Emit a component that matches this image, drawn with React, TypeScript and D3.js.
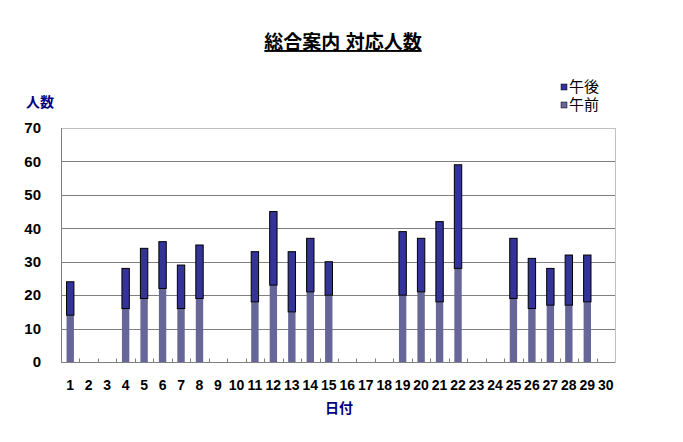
import { useEffect, useRef } from "react";
import * as d3 from "d3";

const days = d3.range(1, 31).map(String);

// 午前 (morning) and 午後 (afternoon) counts per day; 0 = no data
const morning = [14, 0, 0, 16, 19, 22, 16, 19, 0, 0, 18, 23, 15, 21, 20, 0, 0, 0, 20, 21, 18, 28, 0, 0, 19, 16, 17, 17, 18, 0];
const afternoon = [10, 0, 0, 12, 15, 14, 13, 16, 0, 0, 15, 22, 18, 16, 10, 0, 0, 0, 19, 16, 24, 31, 0, 0, 18, 15, 11, 15, 14, 0];

const yTicks = [0, 10, 20, 30, 40, 50, 60, 70];
const seriesNames = ["午後", "午前"];
const seriesColors = ["#333399", "#666699"];

const FONT = "'Liberation Sans', 'Noto Sans CJK JP', sans-serif";
const NUM_FONT = "'Liberation Sans Narrow', 'Liberation Sans', sans-serif";

const App = () => {
  const chartRef = useRef<SVGSVGElement>(null);

  useEffect(() => {
    if (!chartRef.current) return;
    const width = 683;
    const height = 442;
    const margin = { top: 128, right: 68, bottom: 80, left: 61 };

    const svg = d3.select(chartRef.current);
    svg.selectAll("*").remove();

    const xScale = d3
      .scaleBand()
      .domain(days)
      .range([margin.left, width - margin.right])
      .padding(0);

    const yScale = d3
      .scaleLinear()
      .domain([0, 70])
      .range([height - margin.bottom, margin.top]);

    // title
    svg
      .append("text")
      .attr("x", 343)
      .attr("y", 49)
      .attr("text-anchor", "middle")
      .style("font-family", FONT)
      .style("font-size", "19px")
      .style("font-weight", "bold")
      .style("text-decoration", "underline")
      .text("総合案内 対応人数");

    // plot frame (light)
    svg
      .append("rect")
      .attr("x", margin.left + 0.5)
      .attr("y", yScale(70) + 0.5)
      .attr("width", width - margin.right - margin.left)
      .attr("height", yScale(0) - yScale(70))
      .attr("fill", "none")
      .attr("stroke", "#c0c0c0");

    // gridlines
    svg
      .append("g")
      .selectAll("line")
      .data(yTicks.filter((t) => t > 0 && t < 70))
      .join("line")
      .attr("x1", margin.left)
      .attr("x2", width - margin.right)
      .attr("y1", (d) => Math.round(yScale(d)) + 0.5)
      .attr("y2", (d) => Math.round(yScale(d)) + 0.5)
      .attr("stroke", "#808080");

    // y tick labels
    svg
      .append("g")
      .selectAll("text")
      .data(yTicks)
      .join("text")
      .attr("x", margin.left - 20)
      .attr("y", (d) => yScale(d))
      .attr("dy", "0.35em")
      .attr("text-anchor", "end")
      .style("font-family", NUM_FONT)
      .style("font-size", "15px")
      .style("font-weight", "bold")
      .text((d) => d);

    // stacked bars
    const barW = xScale.bandwidth() * 0.4;
    const barX = (i: number) => (xScale(days[i]) as number) + (xScale.bandwidth() - barW) / 2;

    const g = svg.append("g");
    days.forEach((_day, i) => {
      if (morning[i] + afternoon[i] === 0) return;
      g.append("rect")
        .attr("x", barX(i))
        .attr("y", yScale(morning[i]))
        .attr("width", barW)
        .attr("height", yScale(0) - yScale(morning[i]))
        .attr("fill", seriesColors[1]);
      g.append("rect")
        .attr("x", barX(i))
        .attr("y", yScale(morning[i] + afternoon[i]))
        .attr("width", barW)
        .attr("height", yScale(morning[i]) - yScale(morning[i] + afternoon[i]))
        .attr("fill", seriesColors[0])
        .attr("stroke", "#000")
        .attr("stroke-width", 1);
    });

    // axes lines
    const y0 = Math.round(yScale(0)) + 0.5;
    svg
      .append("line")
      .attr("x1", margin.left + 0.5)
      .attr("x2", margin.left + 0.5)
      .attr("y1", yScale(70))
      .attr("y2", y0)
      .attr("stroke", "#808080");
    svg
      .append("line")
      .attr("x1", margin.left)
      .attr("x2", width - margin.right)
      .attr("y1", y0)
      .attr("y2", y0)
      .attr("stroke", "#808080");

    // category ticks (inside, at boundaries)
    svg
      .append("g")
      .selectAll("line")
      .data(days.slice(1))
      .join("line")
      .attr("x1", (d) => Math.round(xScale(d) as number) + 0.5)
      .attr("x2", (d) => Math.round(xScale(d) as number) + 0.5)
      .attr("y1", y0)
      .attr("y2", y0 - 4)
      .attr("stroke", "#808080");

    // x tick labels
    svg
      .append("g")
      .selectAll("text")
      .data(days)
      .join("text")
      .attr("x", (d) => (xScale(d) as number) + xScale.bandwidth() / 2)
      .attr("y", 385)
      .attr("dy", "0.35em")
      .attr("text-anchor", "middle")
      .style("font-family", NUM_FONT)
      .style("font-size", "14px")
      .style("font-weight", "bold")
      .text((d) => d);

    // axis titles
    svg
      .append("text")
      .attr("x", 40)
      .attr("y", 102)
      .attr("dy", "0.35em")
      .attr("text-anchor", "middle")
      .style("font-family", FONT)
      .style("font-size", "14px")
      .style("font-weight", "bold")
      .style("fill", "#000080")
      .text("人数");

    svg
      .append("text")
      .attr("x", 339)
      .attr("y", 408)
      .attr("dy", "0.35em")
      .attr("text-anchor", "middle")
      .style("font-family", FONT)
      .style("font-size", "14px")
      .style("font-weight", "bold")
      .style("fill", "#000080")
      .text("日付");

    // legend
    const legend = svg
      .append("g")
      .selectAll("g")
      .data(seriesNames)
      .join("g")
      .attr("transform", (_d, i) => `translate(561, ${87 + i * 18})`);
    legend
      .append("rect")
      .attr("x", 0)
      .attr("y", -3)
      .attr("width", 6)
      .attr("height", 6)
      .attr("fill", (_d, i) => seriesColors[i])
      .attr("stroke", "#000")
      .attr("stroke-width", 0.5);
    legend
      .append("text")
      .attr("x", 8)
      .attr("y", 0)
      .attr("dy", "0.35em")
      .style("font-family", FONT)
      .style("font-size", "15px")
      .text((d) => d);
  }, []);

  return (
    <svg
      ref={chartRef}
      width={683}
      height={442}
      style={{ position: "absolute", left: 0, top: 0, background: "#fff" }}
    />
  );
};

export default App;
